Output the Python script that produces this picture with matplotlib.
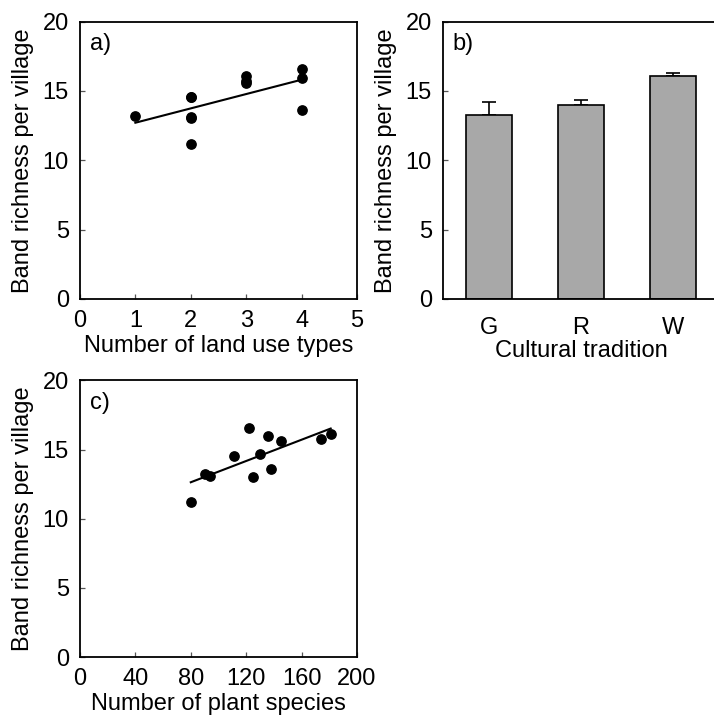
import numpy as np
import matplotlib
matplotlib.use("Agg")
import matplotlib.pyplot as plt

plt.rcParams['font.family'] = ['Liberation Sans', 'DejaVu Sans']
plt.rcParams['font.size'] = 17

# panel a: land use types vs band richness
land_use = [1, 2, 2, 2, 2, 2, 3, 3, 3, 4, 4, 4]
rich_a = [13.2, 14.6, 14.55, 13.1, 13.05, 11.15, 16.1, 15.7, 15.6, 16.6, 15.95, 13.6]

# panel b: cultural tradition means with upper error
traditions = ["G", "R", "W"]
rich_b = [13.3, 14.0, 16.1]
err_b = [0.9, 0.35, 0.2]

# panel c: plant species vs band richness
plants = [80, 90, 94, 111, 122, 125, 130, 136, 138, 145, 174, 181]
rich_c = [11.2, 13.25, 13.1, 14.55, 16.6, 13.05, 14.65, 16.0, 13.6, 15.6, 15.75, 16.1]

fig = plt.figure(figsize=(7.14, 7.22), dpi=100)
ax_a = fig.add_axes([0.112, 0.586, 0.388, 0.384])
ax_b = fig.add_axes([0.6204, 0.586, 0.3866, 0.384])
ax_c = fig.add_axes([0.112, 0.090, 0.388, 0.383])


def style(ax):
    for s in ax.spines.values():
        s.set_linewidth(1.3)
    ax.tick_params(direction='in', length=3.5, width=0.9, color='#555555',
                   labelsize=17, pad=8)
    ax.set_ylim(0, 20)
    ax.set_yticks([0, 5, 10, 15, 20])
    ax.set_ylabel("Band richness per village", fontsize=17, labelpad=6)


def fit_line(ax, x, y):
    x = np.array(x, dtype=float)
    k, b = np.polyfit(x, y, 1)
    xs = np.array([x.min(), x.max()])
    ax.plot(xs, k * xs + b, color='black', lw=1.5, zorder=2)


# a)
style(ax_a)
ax_a.scatter(land_use, rich_a, s=45, color='black', zorder=3)
fit_line(ax_a, land_use, rich_a)
ax_a.set_xlim(0, 5)
ax_a.set_xticks([0, 1, 2, 3, 4, 5])
ax_a.set_xlabel("Number of land use types", fontsize=17, labelpad=2)
ax_a.text(0.035, 0.96, "a)", transform=ax_a.transAxes, va='top', fontsize=17)

# b)
style(ax_b)
pos = np.arange(len(traditions))
ax_b.bar(pos, rich_b, width=0.5, color='#a8a8a8', edgecolor='black', lw=1.2,
         zorder=2)
ax_b.errorbar(pos, rich_b, yerr=[np.zeros(len(err_b)), err_b], fmt='none',
              ecolor='black', elinewidth=1.2, capsize=5, capthick=1.2, zorder=1)
ax_b.set_xlim(-0.5, 2.5)
ax_b.set_xticks(pos)
ax_b.set_xticklabels(traditions)
ax_b.tick_params(axis='x', length=0, pad=13)
ax_b.set_xlabel("Cultural tradition", fontsize=17, labelpad=1)
ax_b.text(0.035, 0.96, "b)", transform=ax_b.transAxes, va='top', fontsize=17)

# c)
style(ax_c)
ax_c.scatter(plants, rich_c, s=45, color='black', zorder=3)
fit_line(ax_c, plants, rich_c)
ax_c.set_xlim(0, 200)
ax_c.set_xticks([0, 40, 80, 120, 160, 200])
ax_c.set_xlabel("Number of plant species", fontsize=17, labelpad=2)
ax_c.text(0.035, 0.96, "c)", transform=ax_c.transAxes, va='top', fontsize=17)

fig.savefig("out.png", dpi=100)
